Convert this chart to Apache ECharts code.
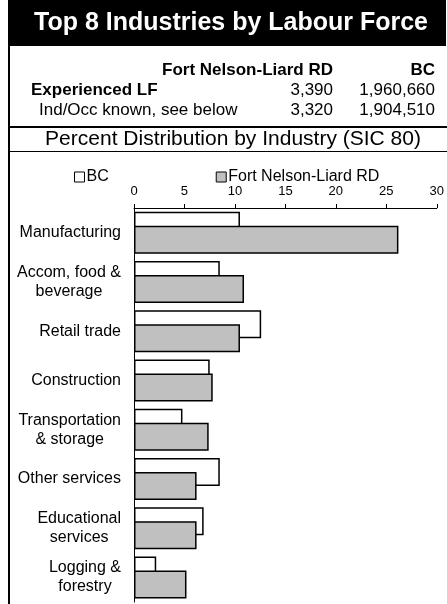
<!DOCTYPE html>
<html>
<head>
<meta charset="utf-8">
<title>Top 8 Industries by Labour Force</title>
<style>
  html, body { margin: 0; padding: 0; background: #fff; }
  #chart { width: 447px; height: 604px; }
</style>
</head>
<body>
<div id="chart"></div>
<script src="https://cdn.jsdelivr.net/npm/echarts@6/dist/echarts.min.js"></script>
<script>
var FONT = '"Liberation Sans", Arial, sans-serif';

// industries, top to bottom
var categories = [
  'Manufacturing',
  'Accom, food &\nbeverage',
  'Retail trade',
  'Construction',
  'Transportation\n& storage',
  'Other services',
  'Educational\nservices',
  'Logging &\nforestry'
];
// percent of labour force
var bcValues = [10.5, 8.5, 12.6, 7.5, 4.8, 8.5, 6.9, 2.2];
var fnValues = [26.2, 10.9, 10.5, 7.8, 7.4, 6.2, 6.2, 5.2];
var seriesNames = ['BC', 'Fort Nelson-Liard RD'];

// summary table
var tableHeader = ['Fort Nelson-Liard RD', 'BC'];
var experiencedLF = [3390, 1960660];
var indOccKnown = [3320, 1904510];

function fmt(n) {
  return n.toString().replace(/\B(?=(\d{3})+(?!\d))/g, ',');
}

function txt(x, y, s, opt) {
  opt = opt || {};
  return {
    type: 'text',
    x: x, y: y,
    style: {
      text: s,
      fill: opt.fill || '#000',
      font: (opt.bold ? 'bold ' : '') + (opt.size || 17) + 'px ' + FONT,
      textAlign: opt.align || 'left',
      textVerticalAlign: 'middle'
    },
    z: 10
  };
}

var chart = echarts.init(document.getElementById('chart'));

var graphics = [
  // black title bar
  { type: 'rect', shape: { x: 8, y: 0, width: 438, height: 46 }, style: { fill: '#000' } },
  txt(231, 23, 'Top 8 Industries by Labour Force', { fill: '#fff', bold: true, size: 25, align: 'center' }),
  // table
  txt(333, 70, tableHeader[0], { bold: true, align: 'right' }),
  txt(435, 70, tableHeader[1], { bold: true, align: 'right' }),
  txt(31, 90, 'Experienced LF', { bold: true }),
  txt(333, 90, fmt(experiencedLF[0]), { align: 'right' }),
  txt(435, 90, fmt(experiencedLF[1]), { align: 'right' }),
  txt(39, 110, 'Ind/Occ known, see below', {}),
  txt(333, 110, fmt(indOccKnown[0]), { align: 'right' }),
  txt(435, 110, fmt(indOccKnown[1]), { align: 'right' }),
  // separators
  { type: 'rect', shape: { x: 8, y: 126, width: 439, height: 2 }, style: { fill: '#000' } },
  txt(233, 139, 'Percent Distribution by Industry (SIC 80)', { size: 21, align: 'center' }),
  { type: 'rect', shape: { x: 8, y: 151, width: 439, height: 1 }, style: { fill: '#000' } },
  // left border
  { type: 'rect', shape: { x: 8, y: 0, width: 2, height: 604 }, style: { fill: '#000' } }
];

var option = {
  animation: false,
  textStyle: { fontFamily: FONT },
  graphic: graphics,
  legend: {
    data: seriesNames,
    left: 69,
    top: 164,
    itemGap: 107,
    itemWidth: 10,
    itemHeight: 10,
    icon: 'rect',
    itemStyle: { borderWidth: 1, borderColor: '#000' },
    textStyle: { fontSize: 16, color: '#000', fontFamily: FONT, padding: [0, 0, 0, -3] }
  },
  grid: { left: 134, right: 9, top: 208, bottom: 2, containLabel: false },
  xAxis: {
    type: 'value',
    position: 'top',
    min: 0,
    max: 30,
    interval: 5,
    splitLine: { show: false },
    axisLine: { show: true, lineStyle: { color: '#000', width: 1 } },
    axisTick: { show: true, length: 4, lineStyle: { color: '#000' } },
    axisLabel: { fontSize: 13, color: '#000', margin: 10, fontFamily: FONT }
  },
  yAxis: {
    type: 'category',
    data: categories,
    inverse: true,
    axisLine: { show: true, lineStyle: { color: '#000', width: 1 } },
    axisTick: { show: false },
    axisLabel: {
      align: 'right',
      margin: 13,
      formatter: function (v) {
        return v.split('\n').map(function (l) { return '{c|' + l + '}'; }).join('\n');
      },
      rich: {
        c: { align: 'center', fontSize: 16, lineHeight: 19, color: '#000', fontFamily: FONT }
      }
    }
  },
  series: [
    {
      name: seriesNames[0],
      type: 'bar',
      data: bcValues,
      barWidth: 28,
      barGap: '-50%',
      itemStyle: { color: '#fff', borderColor: '#000', borderWidth: 1.5 }
    },
    {
      name: seriesNames[1],
      type: 'bar',
      data: fnValues,
      barWidth: 28,
      barGap: '-50%',
      itemStyle: { color: '#c0c0c0', borderColor: '#000', borderWidth: 1.5 }
    }
  ]
};

chart.setOption(option);
</script>
</body>
</html>
